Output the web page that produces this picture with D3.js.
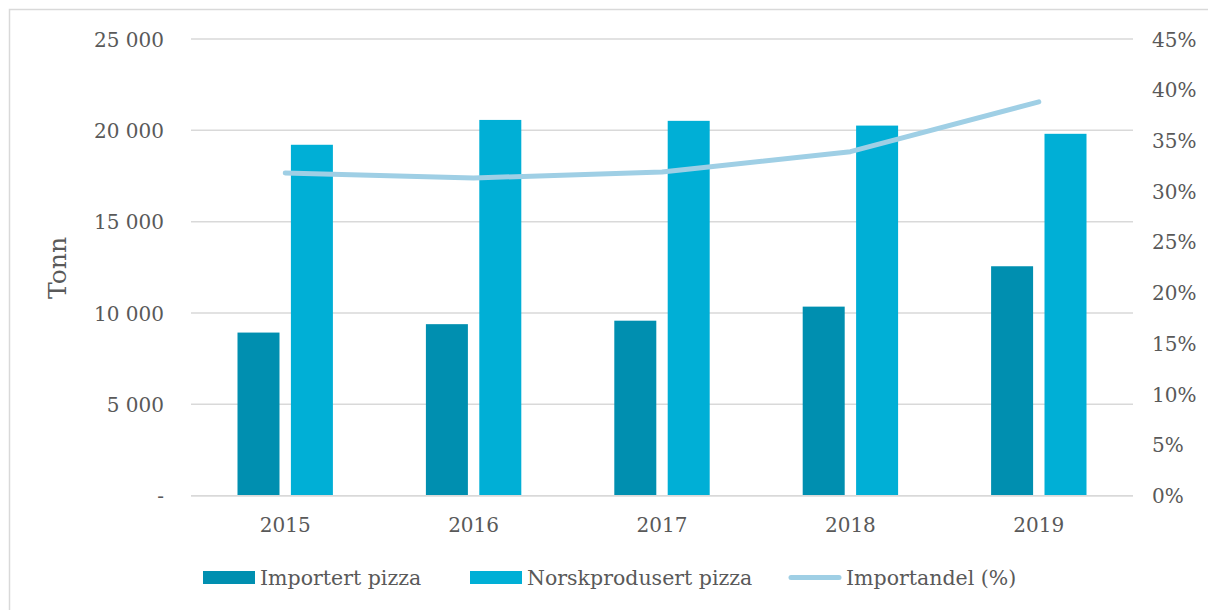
<!DOCTYPE html>
<html>
<head>
<meta charset="utf-8">
<script src="https://cdn.jsdelivr.net/npm/d3@7"></script>
<style>
  html, body { margin: 0; padding: 0; background: #fff; }
  svg text { font-family: Georgia, "DejaVu Serif", serif; fill: #595959; }
</style>
</head>
<body>
<svg id="chart" width="1208" height="610"></svg>
<script>
const years = ["2015", "2016", "2017", "2018", "2019"];
const importert = [8930, 9390, 9580, 10350, 12560];
const norskprodusert = [19210, 20570, 20520, 20260, 19810];
const importandel = [31.8, 31.3, 31.9, 33.9, 38.8];
const leftTicks = [0, 5000, 10000, 15000, 20000, 25000];
const rightTicks = [0, 5, 10, 15, 20, 25, 30, 35, 40, 45];
const seriesNames = ["Importert pizza", "Norskprodusert pizza", "Importandel (%)"];

const colImp = "#008fb0", colNor = "#00afd6", colLine = "#9fcfe5";
const svg = d3.select("#chart");
const W = 1208, H = 610;
const plot = { left: 191, right: 1133, top: 39, bottom: 495.7 };

// outer border
svg.append("path").attr("d", `M9.5,${H} V9.5 H${W}`).attr("fill", "none").attr("stroke", "#d9d9d9").attr("stroke-width", 1.5);

const x0 = d3.scaleBand().domain(years).range([plot.left, plot.right]).padding(0);
const x1 = d3.scaleBand().domain(["imp", "nor"]).range([0, 95.4]).paddingInner(0.2135).paddingOuter(0);
const y = d3.scaleLinear().domain([0, 25000]).range([plot.bottom, plot.top]);
const yr = d3.scaleLinear().domain([0, 45]).range([plot.bottom, plot.top]);

const fmt = v => v === 0 ? "-" : d3.format(",")(v).replace(",", " ");

// gridlines
svg.append("g").selectAll("line").data(leftTicks).join("line")
  .attr("x1", plot.left).attr("x2", plot.right)
  .attr("y1", d => y(d)).attr("y2", d => y(d))
  .attr("stroke", "#d9d9d9").attr("stroke-width", 1.5);

// left axis labels
const yAxis = d3.axisLeft(y).tickValues(leftTicks).tickFormat(fmt).tickSize(0).tickPadding(0);
const gl = svg.append("g").attr("transform", "translate(164,0)").call(yAxis);
gl.select(".domain").remove();
gl.selectAll("text").attr("font-size", 20).attr("dy", "0.35em").style("font-family", null);

// right axis labels
const yrAxis = d3.axisRight(yr).tickValues(rightTicks).tickFormat(d => d + "%").tickSize(0).tickPadding(0);
const gr = svg.append("g").attr("transform", "translate(1152,0)").call(yrAxis);
gr.select(".domain").remove();
gr.selectAll("text").attr("font-size", 20).attr("dy", "0.35em").style("font-family", null);

// bars
const center = d => x0(d) + x0.bandwidth() / 2 - 47.7;
svg.append("g").selectAll("rect").data(years).join("rect")
  .attr("x", d => center(d) + x1("imp")).attr("width", x1.bandwidth())
  .attr("y", (d, i) => y(importert[i])).attr("height", (d, i) => plot.bottom - y(importert[i]))
  .attr("fill", colImp);
svg.append("g").selectAll("rect").data(years).join("rect")
  .attr("x", d => center(d) + x1("nor")).attr("width", x1.bandwidth())
  .attr("y", (d, i) => y(norskprodusert[i])).attr("height", (d, i) => plot.bottom - y(norskprodusert[i]))
  .attr("fill", colNor);

// baseline redraw
svg.append("line").attr("x1", plot.left).attr("x2", plot.right)
  .attr("y1", y(0)).attr("y2", y(0)).attr("stroke", "#d9d9d9").attr("stroke-width", 1.5);

// line
const line = d3.line().x((d, i) => x0(years[i]) + x0.bandwidth() / 2).y(d => yr(d));
svg.append("path").datum(importandel).attr("d", line)
  .attr("fill", "none").attr("stroke", colLine).attr("stroke-width", 5)
  .attr("stroke-linecap", "round").attr("stroke-linejoin", "round");

// x axis labels
const xAxis = d3.axisBottom(x0).tickSize(0).tickPadding(0);
const gx = svg.append("g").attr("transform", "translate(0,518)").call(xAxis);
gx.select(".domain").remove();
gx.selectAll("text").attr("font-size", 20).attr("dy", "0.71em").style("font-family", null);

// y title
svg.append("text").attr("transform", "translate(66,268) rotate(-90)")
  .attr("text-anchor", "middle").attr("font-size", 25).text("Tonn");

// legend
const lg = svg.append("g");
const legendX = [203, 470, 789];
lg.append("rect").attr("x", legendX[0]).attr("y", 571).attr("width", 52).attr("height", 13).attr("fill", colImp);
lg.append("rect").attr("x", legendX[1]).attr("y", 571).attr("width", 52).attr("height", 13).attr("fill", colNor);
lg.append("line").attr("x1", legendX[2] + 2).attr("x2", legendX[2] + 50).attr("y1", 577.5).attr("y2", 577.5)
  .attr("stroke", colLine).attr("stroke-width", 5).attr("stroke-linecap", "round");
lg.selectAll("text").data(seriesNames).join("text")
  .attr("x", (d, i) => legendX[i] + 57).attr("y", 585).attr("font-size", 20.5).text(d => d);
</script>
</body>
</html>
